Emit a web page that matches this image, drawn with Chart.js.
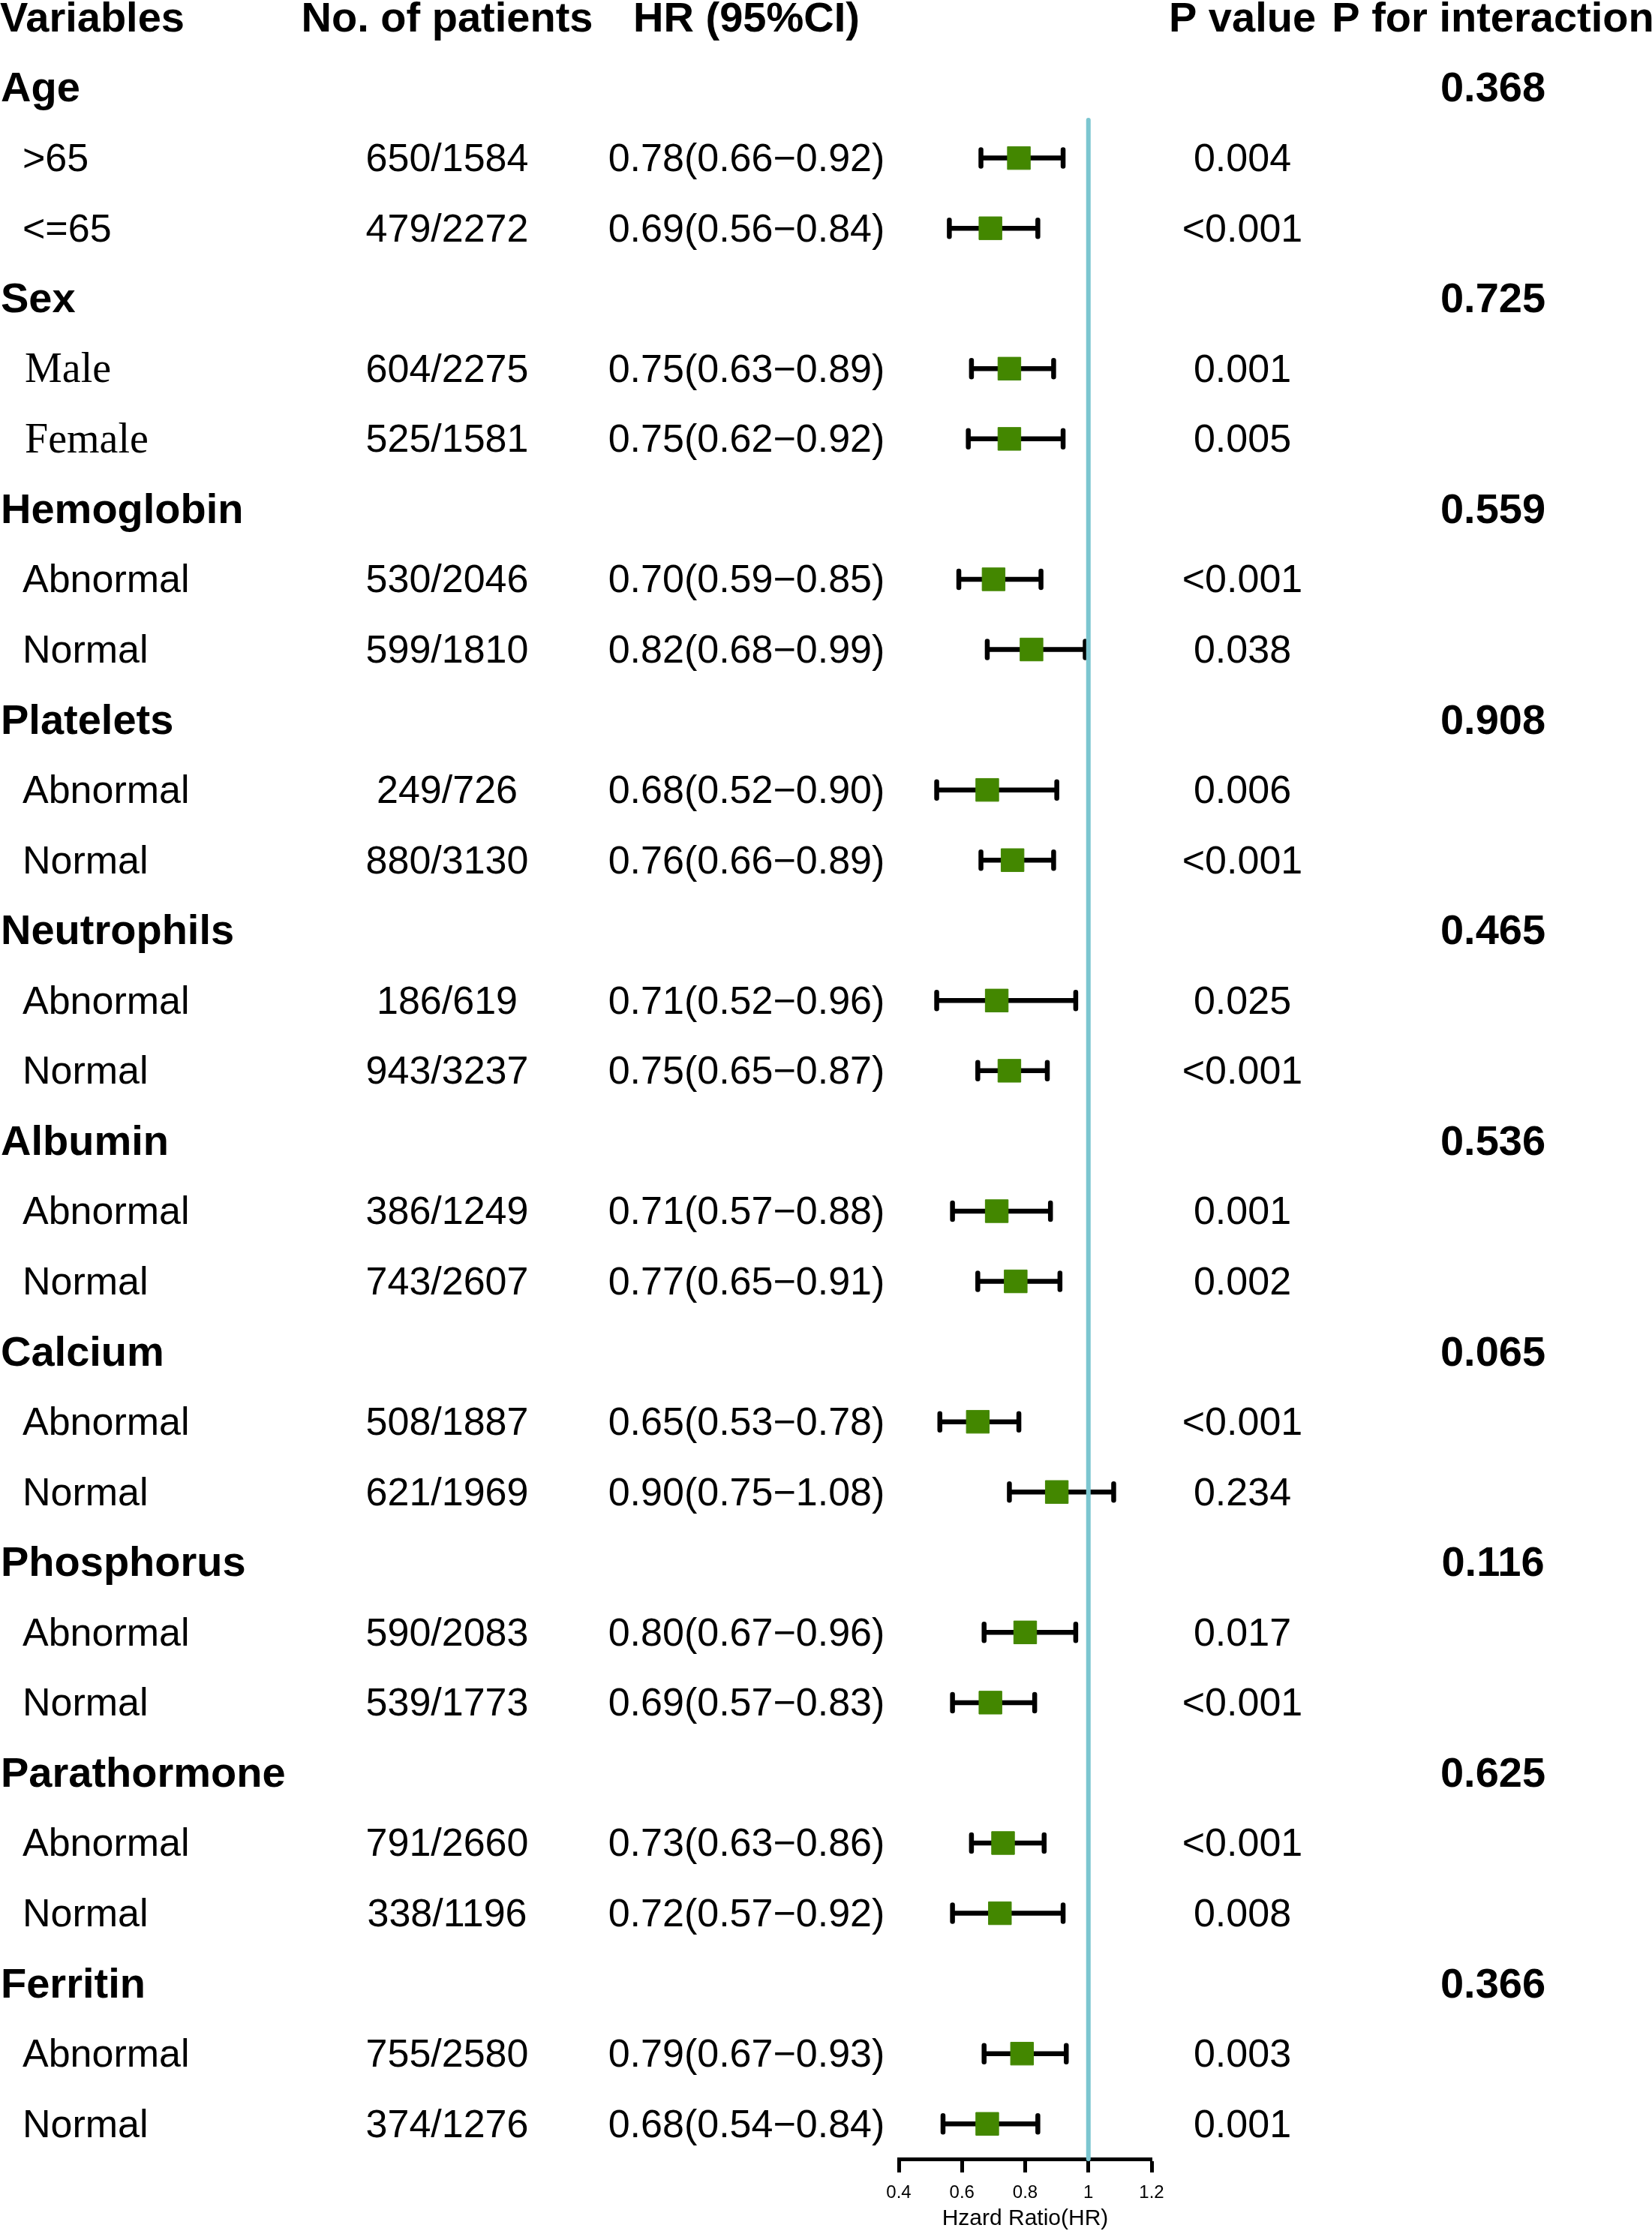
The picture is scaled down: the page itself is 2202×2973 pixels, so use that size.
<!DOCTYPE html>
<html>
<head>
<meta charset="utf-8">
<script src="https://cdn.jsdelivr.net/npm/chart.js@4.4.1/dist/chart.umd.min.js"></script>
<style>
  html, body { margin: 0; padding: 0; background: #fff; }
  #wrap { width: 2202px; height: 2973px; position: relative; }
</style>
</head>
<body>
<div id="wrap"><canvas id="forest"></canvas></div>
<script>
// Subgroup analysis data
const headers = ['Variables', 'No. of patients', 'HR (95%CI)', 'P value', 'P for interaction'];
const groups = ['Age', 'Sex', 'Hemoglobin', 'Platelets', 'Neutrophils', 'Albumin',
                'Calcium', 'Phosphorus', 'Parathormone', 'Ferritin'];
const pInteraction = ['0.368', '0.725', '0.559', '0.908', '0.465', '0.536',
                      '0.065', '0.116', '0.625', '0.366'];
const subgroups = ['>65', '<=65', 'Male', 'Female', 'Abnormal', 'Normal', 'Abnormal', 'Normal',
                   'Abnormal', 'Normal', 'Abnormal', 'Normal', 'Abnormal', 'Normal',
                   'Abnormal', 'Normal', 'Abnormal', 'Normal', 'Abnormal', 'Normal'];
const patients = ['650/1584', '479/2272', '604/2275', '525/1581', '530/2046', '599/1810',
                  '249/726', '880/3130', '186/619', '943/3237', '386/1249', '743/2607',
                  '508/1887', '621/1969', '590/2083', '539/1773', '791/2660', '338/1196',
                  '755/2580', '374/1276'];
const hr     = [0.78, 0.69, 0.75, 0.75, 0.70, 0.82, 0.68, 0.76, 0.71, 0.75,
                0.71, 0.77, 0.65, 0.90, 0.80, 0.69, 0.73, 0.72, 0.79, 0.68];
const ciLow  = [0.66, 0.56, 0.63, 0.62, 0.59, 0.68, 0.52, 0.66, 0.52, 0.65,
                0.57, 0.65, 0.53, 0.75, 0.67, 0.57, 0.63, 0.57, 0.67, 0.54];
const ciHigh = [0.92, 0.84, 0.89, 0.92, 0.85, 0.99, 0.90, 0.89, 0.96, 0.87,
                0.88, 0.91, 0.78, 1.08, 0.96, 0.83, 0.86, 0.92, 0.93, 0.84];
const pValues = ['0.004', '<0.001', '0.001', '0.005', '<0.001', '0.038', '0.006', '<0.001',
                 '0.025', '<0.001', '0.001', '0.002', '<0.001', '0.234', '0.017', '<0.001',
                 '<0.001', '0.008', '0.003', '0.001'];
const xTicks = [0.4, 0.6, 0.8, 1, 1.2];

const SANS = "'Liberation Sans', Arial, Helvetica, sans-serif";
const SERIF = "'Liberation Serif', 'Times New Roman', serif";

// row index on the y scale: group header at 3g, its two subgroups below
const groupRow = (g) => g * 3;
const subgroupRow = (i) => Math.floor(i / 2) * 3 + 1 + (i % 2);

const COL_PATIENTS = 596;
const COL_HR = 995;
const COL_P = 1656;
const COL_PINT = 1990;
const TEXT_DY = 3; // canvas 'middle' sits a bit above the visual centre of the glyphs

const forestPlugin = {
  id: 'forestPlugin',
  beforeDatasetsDraw(chart) {
    const { ctx, scales: { x, y }, chartArea } = chart;
    ctx.save();
    // confidence interval whiskers
    ctx.strokeStyle = '#000';
    ctx.lineWidth = 6.5;
    ctx.lineCap = 'round';
    subgroups.forEach((s, i) => {
      const py = y.getPixelForValue(subgroupRow(i));
      const x0 = x.getPixelForValue(ciLow[i]);
      const x1 = x.getPixelForValue(ciHigh[i]);
      ctx.beginPath();
      ctx.moveTo(x0, py); ctx.lineTo(x1, py);
      ctx.moveTo(x0, py - 11); ctx.lineTo(x0, py + 11);
      ctx.moveTo(x1, py - 11); ctx.lineTo(x1, py + 11);
      ctx.stroke();
    });
    // reference line at HR = 1
    const xr = x.getPixelForValue(1);
    ctx.strokeStyle = '#7cc6d0';
    ctx.lineWidth = 6;
    ctx.beginPath();
    ctx.moveTo(xr, y.getPixelForValue(0.46));
    ctx.lineTo(xr, chartArea.bottom);
    ctx.stroke();
    ctx.restore();
  },
  afterDraw(chart) {
    const { ctx, scales: { y } } = chart;
    ctx.save();
    ctx.fillStyle = '#000';
    ctx.textBaseline = 'middle';

    // header
    const hy = y.getPixelForValue(-1) + TEXT_DY;
    ctx.font = 'bold 56px ' + SANS;
    ctx.textAlign = 'left';
    ctx.fillText(headers[0], 0, hy);
    ctx.textAlign = 'center';
    ctx.fillText(headers[1], COL_PATIENTS, hy);
    ctx.fillText(headers[2], COL_HR, hy);
    ctx.fillText(headers[3], COL_P, hy);
    ctx.fillText(headers[4], COL_PINT, hy);

    // group rows
    groups.forEach((g, k) => {
      const py = y.getPixelForValue(groupRow(k)) + TEXT_DY;
      ctx.font = 'bold 56px ' + SANS;
      ctx.textAlign = 'left';
      ctx.fillText(g, 1, py);
      ctx.textAlign = 'center';
      ctx.fillText(pInteraction[k], COL_PINT, py);
    });

    // subgroup rows
    subgroups.forEach((s, i) => {
      const py = y.getPixelForValue(subgroupRow(i)) + TEXT_DY;
      ctx.textAlign = 'left';
      if (s === 'Male' || s === 'Female') {
        ctx.font = '56px ' + SERIF;
        ctx.fillText(s, 33, py);
      } else {
        ctx.font = '52px ' + SANS;
        ctx.fillText(s, 30, py);
      }
      ctx.font = '52px ' + SANS;
      ctx.textAlign = 'center';
      ctx.fillText(patients[i], COL_PATIENTS, py);
      const hrText = hr[i].toFixed(2) + '(' + ciLow[i].toFixed(2) + '\u2212' + ciHigh[i].toFixed(2) + ')';
      ctx.fillText(hrText, COL_HR, py);
      ctx.fillText(pValues[i], COL_P, py);
    });
    ctx.restore();
  }
};

const ctx = document.getElementById('forest').getContext('2d');
const forestChart = new Chart(ctx, {
  type: 'scatter',
  data: {
    datasets: [{
      label: 'HR',
      data: subgroups.map((s, i) => ({ x: hr[i], y: subgroupRow(i) })),
      pointStyle: 'rect',
      pointRadius: 21.5,
      pointHoverRadius: 21.5,
      backgroundColor: '#438700',
      borderColor: '#438700',
      borderWidth: 1
    }]
  },
  options: {
    responsive: true,
    maintainAspectRatio: false,
    animation: false,
    devicePixelRatio: 1,
    layout: { padding: { left: 1198, right: 667, top: 23.5, bottom: 0 } },
    plugins: {
      legend: { display: false },
      tooltip: { enabled: false }
    },
    scales: {
      x: {
        type: 'linear',
        min: 0.4,
        max: 1.2,
        afterBuildTicks: (scale) => { scale.ticks = xTicks.map(v => ({ value: v })); },
        afterFit: (scale) => { scale.height = 96; },
        grid: { drawOnChartArea: false, drawTicks: true, tickLength: 18, tickWidth: 5, tickColor: '#000' },
        border: { display: true, color: '#000', width: 5 },
        ticks: {
          color: '#000',
          padding: 13,
          font: { family: SANS, size: 24 },
          callback: (v) => String(v)
        },
        title: {
          display: true,
          text: 'Hzard Ratio(HR)',
          color: '#000',
          font: { family: SANS, size: 30, lineHeight: 1.1 },
          padding: { top: 0, bottom: 0 }
        }
      },
      y: {
        type: 'linear',
        display: false,
        reverse: true,
        min: -1,
        max: 29.5
      }
    }
  },
  plugins: [forestPlugin]
});
</script>
</body>
</html>
